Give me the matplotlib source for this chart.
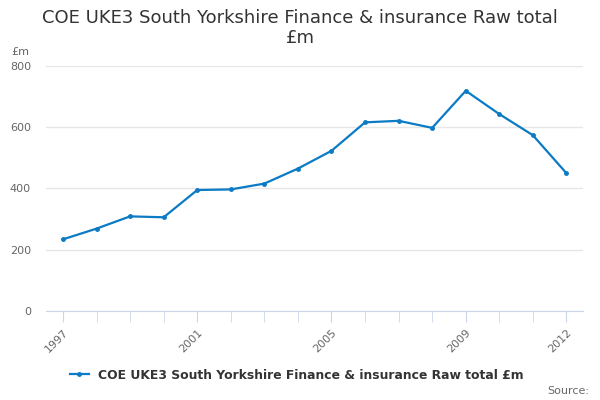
import matplotlib
matplotlib.use("Agg")
import matplotlib.pyplot as plt

years = [1997, 1998, 1999, 2000, 2001, 2002, 2003, 2004,
         2005, 2006, 2007, 2008, 2009, 2010, 2011, 2012]
values = [234, 269, 309, 306, 395, 397, 416, 465,
          523, 616, 621, 598, 719, 643, 574, 450]
label_years = [1997, 2001, 2005, 2009, 2012]
series_name = "COE UKE3 South Yorkshire Finance & insurance Raw total £m"

plt.rcParams['font.family'] = ['DejaVu Sans']

fig = plt.figure(figsize=(6, 4), dpi=100)
ax = fig.add_axes([0.077, 0.2225, 0.895, 0.6125])

ax.plot(years, values, color="#0a7bc4", linewidth=1.6, marker="o",
        markersize=2.5, label=series_name)

ax.set_xlim(1996.5, 2012.5)
ax.set_ylim(0, 800)
ax.set_yticks([0, 200, 400, 600, 800])
ax.set_xticks(years, minor=True)
ax.set_xticks(label_years)
ax.set_xticklabels([str(y) for y in label_years], rotation=45, ha="right",
                   rotation_mode="anchor")
ax.grid(axis="y", color="#e6e6e6", linewidth=1)
ax.set_axisbelow(True)
for s in ["top", "right", "left"]:
    ax.spines[s].set_visible(False)
ax.spines["bottom"].set_color("#ccd6eb")
ax.tick_params(axis="y", length=0, labelsize=8, labelcolor="#666666", pad=11)
ax.tick_params(axis="x", which="both", length=8, color="#ccd6eb",
               labelsize=8, labelcolor="#666666")

fig.text(0.5, 0.978, "COE UKE3 South Yorkshire Finance & insurance Raw total\n£m",
         ha="center", va="top", fontsize=13, color="#333333", linespacing=1.15)
fig.text(0.018, 0.862, "£m", fontsize=8, color="#666666")

fig.legend(loc="lower center", bbox_to_anchor=(0.495, 0.018), frameon=False,
           prop={"size": 8.9, "weight": "bold"}, handlelength=1.5,
           labelcolor="#333333")
fig.text(0.982, 0.015, "Source:", ha="right", fontsize=8, color="#666666")

fig.savefig("out.png", dpi=100)
